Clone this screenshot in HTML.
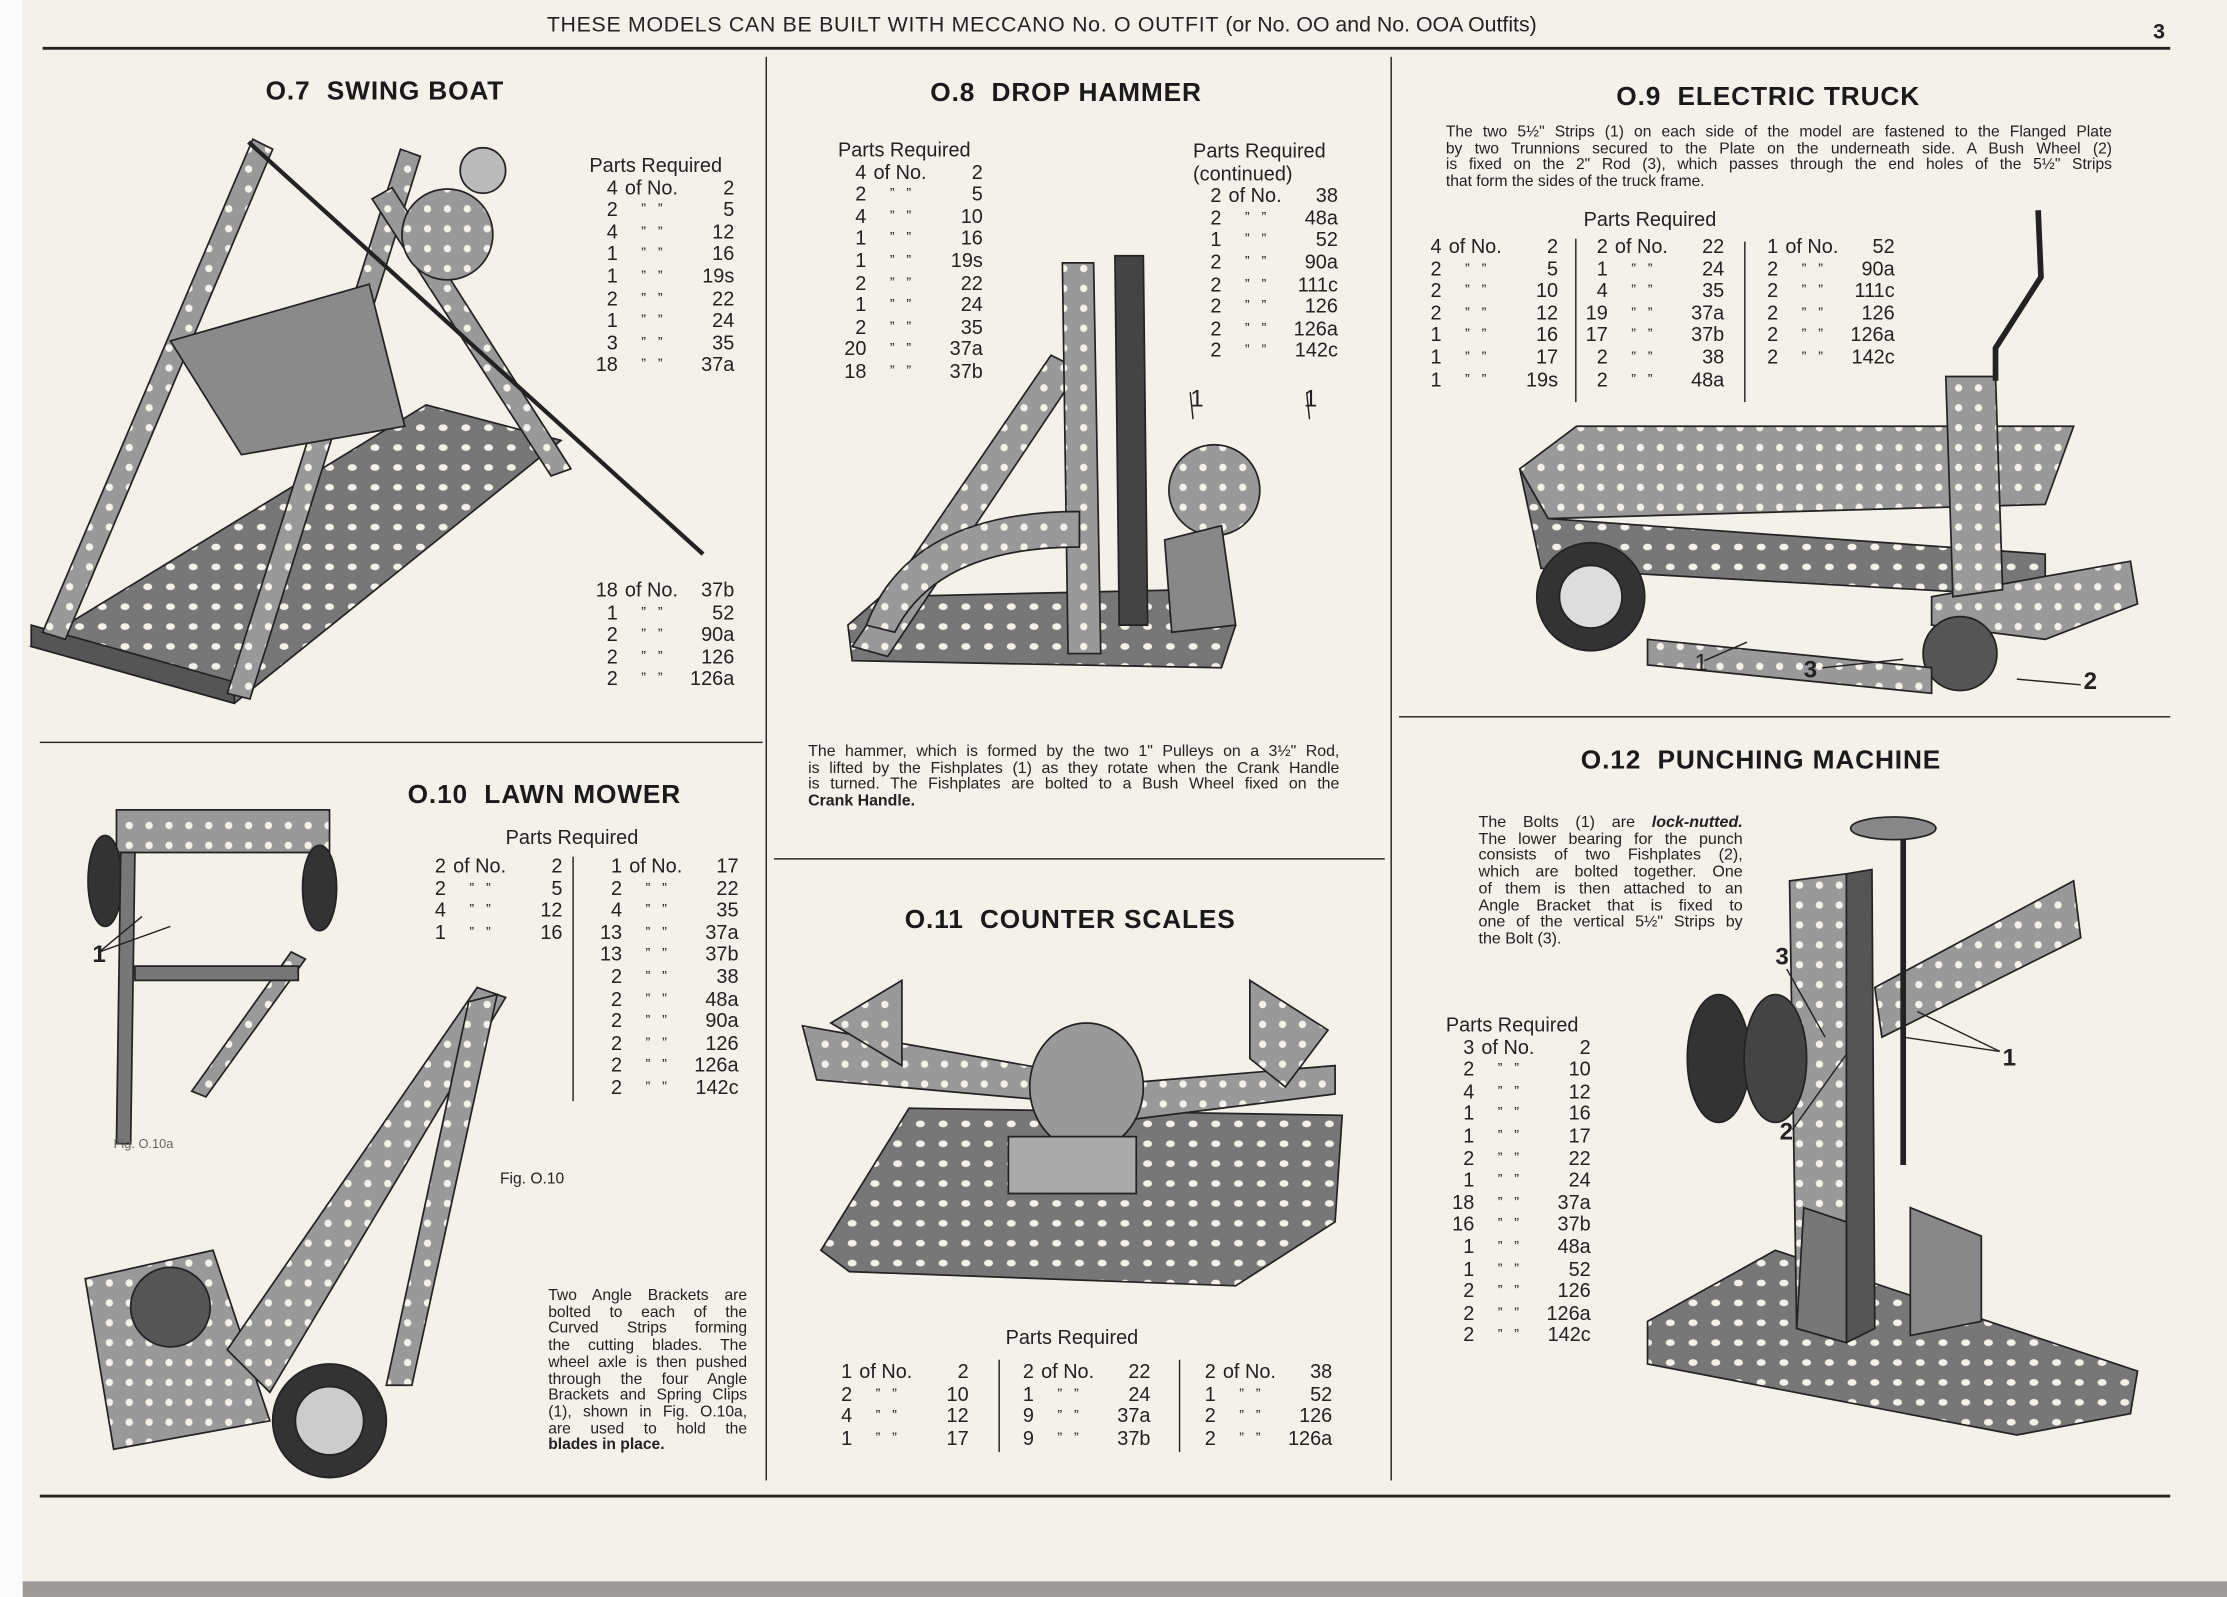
<!DOCTYPE html>
<html><head><meta charset="utf-8">
<style>
html,body{margin:0;padding:0;}
body{width:2227px;height:1597px;overflow:hidden;background:#f4f0ea;position:relative;}
#w{position:absolute;left:0;top:0;width:1568px;height:1124px;transform:scale(1.4203,1.4208);transform-origin:0 0;font-family:"Liberation Sans",sans-serif;color:#222;}
.a{position:absolute;white-space:nowrap;}
.t{font-weight:bold;font-size:18.5px;letter-spacing:0.6px;color:#1a1a1a;}
.ln{position:absolute;background:#222;}
.pl{position:absolute;font-size:14px;line-height:15.6px;}
.pl .r{display:flex;white-space:nowrap;}
.pl .q{display:inline-block;width:20px;text-align:right;}
.pl .m{display:inline-block;width:48px;text-align:center;font-size:10px;}
.pl .mo{display:inline-block;width:48px;text-align:left;padding-left:5px;box-sizing:border-box;}
.pl .n{display:inline-block;width:34px;text-align:right;}
.cap{position:absolute;font-size:11.2px;line-height:11.6px;}
.cap div{text-align:justify;text-align-last:justify;white-space:nowrap;}
.cap div.l{text-align-last:left;}
.lab{position:absolute;font-size:17px;font-weight:bold;}
</style></head><body>
<div id="w">
<div style="position:absolute;left:0;top:0;width:16px;height:1124px;background:#fbfbfb"></div>
<div style="position:absolute;left:16px;top:1113px;width:1552px;height:11px;background:#9d9b99"></div>

<div class="a" style="left:385px;top:9px;font-size:15px;letter-spacing:0.5px">THESE MODELS CAN BE BUILT WITH MECCANO No. O OUTFIT <span style="letter-spacing:0">(or No. OO and No. OOA Outfits)</span></div>
<div class="a" style="left:1516px;top:14px;font-size:15px;font-weight:bold">3</div>

<div class="ln" style="left:30px;top:33px;width:1498px;height:1.5px"></div>
<div class="ln" style="left:539px;top:40px;width:1.3px;height:1002px"></div>
<div class="ln" style="left:979px;top:40px;width:1.3px;height:1002px"></div>
<div class="ln" style="left:28px;top:522px;width:509px;height:1.3px"></div>
<div class="ln" style="left:545px;top:604px;width:430px;height:1.3px"></div>
<div class="ln" style="left:985px;top:504px;width:543px;height:1.3px"></div>
<div class="ln" style="left:28px;top:1052px;width:1500px;height:2px"></div>

<svg style="position:absolute;left:0;top:0" width="1568" height="1124">
<defs>
<pattern id="h" width="16" height="14" patternUnits="userSpaceOnUse"><rect width="16" height="14" fill="#777"/><ellipse cx="8" cy="7" rx="3.2" ry="2.4" fill="#f4f0ea"/></pattern>
<pattern id="h2" width="14" height="14" patternUnits="userSpaceOnUse"><rect width="14" height="14" fill="#999"/><circle cx="7" cy="7" r="2.6" fill="#f4f0ea"/></pattern>
</defs>
<g stroke="#222" stroke-width="1.2">
<!-- swing boat -->
<polygon points="22,455 165,495 395,310 300,285" fill="url(#h)"/>
<polygon points="22,455 165,495 165,480 22,440" fill="#555"/>
<polygon points="30,445 46,450 192,105 178,98" fill="url(#h2)"/>
<polygon points="160,488 176,492 296,110 282,105" fill="url(#h2)"/>
<polygon points="262,140 276,132 402,330 388,335" fill="url(#h2)"/>
<polygon points="120,240 260,200 285,300 170,320" fill="#8a8a8a"/>
<circle cx="315" cy="165" r="32" fill="url(#h2)"/>
<circle cx="340" cy="120" r="16" fill="#bbb"/>
<line x1="175" y1="100" x2="495" y2="390" stroke-width="3"/>
<!-- drop hammer -->
<polygon points="597,440 600,465 860,470 870,440 840,415 620,420" fill="url(#h)"/>
<polygon points="600,455 740,250 760,260 625,462" fill="url(#h2)"/>
<polygon points="748,185 770,185 775,460 752,460" fill="url(#h2)"/>
<polygon points="785,180 805,180 808,440 788,440" fill="#444"/>
<path d="M610,440 Q640,360 760,360 L760,385 Q660,385 630,445Z" fill="url(#h2)"/>
<circle cx="855" cy="345" r="32" fill="url(#h2)"/>
<polygon points="820,380 860,370 870,440 825,445" fill="#888"/>
<!-- electric truck -->
<polygon points="1070,330 1110,300 1460,300 1440,355 1090,365" fill="url(#h2)"/>
<polygon points="1070,330 1090,365 1440,390 1440,420 1085,400" fill="url(#h)"/>
<polygon points="1360,420 1500,395 1505,425 1440,450 1360,440" fill="url(#h2)"/>
<circle cx="1120" cy="420" r="38" fill="#333"/><circle cx="1120" cy="420" r="22" fill="#ddd"/>
<circle cx="1380" cy="460" r="26" fill="#555"/>
<polygon points="1370,265 1405,265 1410,415 1375,420" fill="url(#h2)"/>
<path d="M1435,148 L1437,195 L1405,245 L1405,268" fill="none" stroke-width="4"/>
<polygon points="1160,450 1360,470 1360,488 1160,468" fill="url(#h2)"/>
<!-- lawn mower small -->
<polygon points="82,570 232,570 232,600 82,600" fill="url(#h2)"/>
<ellipse cx="74" cy="620" rx="12" ry="32" fill="#333"/>
<ellipse cx="225" cy="625" rx="12" ry="30" fill="#333"/>
<polygon points="85,600 95,600 92,805 82,805" fill="#777"/>
<polygon points="205,670 215,675 145,772 135,768" fill="url(#h2)"/>
<polygon points="95,680 210,680 210,690 95,690" fill="#777"/>
<!-- lawn mower big -->
<polygon points="60,900 150,880 190,1000 80,1020" fill="url(#h2)"/>
<polygon points="160,950 336,695 356,702 190,980" fill="url(#h2)"/>
<polygon points="330,705 350,700 290,975 272,975" fill="url(#h2)"/>
<circle cx="232" cy="1000" r="40" fill="#333"/><circle cx="232" cy="1000" r="24" fill="#ccc"/>
<circle cx="120" cy="920" r="28" fill="#555"/>
<!-- counter scales -->
<polygon points="578,880 640,780 945,785 940,860 870,905 598,895" fill="url(#h)"/>
<polygon points="565,722 780,760 800,780 575,760" fill="url(#h2)"/>
<polygon points="760,765 940,750 940,770 780,790" fill="url(#h2)"/>
<polygon points="585,720 635,690 635,750" fill="url(#h2)"/>
<polygon points="880,690 935,725 905,765 880,745" fill="url(#h2)"/>
<ellipse cx="765" cy="765" rx="40" ry="45" fill="#999"/>
<polygon points="710,800 800,800 800,840 710,840" fill="#aaa"/>
<!-- punching machine -->
<polygon points="1160,930 1250,880 1505,965 1500,995 1420,1010 1160,960" fill="url(#h)"/>
<polygon points="1260,620 1300,615 1300,945 1265,935" fill="url(#h2)"/>
<polygon points="1300,615 1318,612 1320,935 1300,945" fill="#555"/>
<polygon points="1320,695 1460,620 1465,660 1325,730" fill="url(#h2)"/>
<ellipse cx="1210" cy="745" rx="22" ry="45" fill="#333"/>
<ellipse cx="1250" cy="745" rx="22" ry="45" fill="#444"/>
<line x1="1340" y1="590" x2="1340" y2="820" stroke-width="4"/>
<ellipse cx="1333" cy="583" rx="30" ry="8" fill="#888"/>
<polygon points="1345,850 1395,870 1395,930 1345,940" fill="#888"/>
<polygon points="1270,850 1300,860 1300,945 1265,935" fill="#777"/>
</g>
<g stroke="#222" stroke-width="1" fill="none">
<line x1="838" y1="276" x2="840" y2="295"/><line x1="920" y1="276" x2="922" y2="295"/>
<line x1="1200" y1="465" x2="1230" y2="452"/><line x1="1283" y1="470" x2="1340" y2="464"/><line x1="1420" y1="478" x2="1465" y2="482"/>
<line x1="70" y1="670" x2="100" y2="645"/><line x1="70" y1="670" x2="120" y2="652"/>
<line x1="1408" y1="740" x2="1350" y2="712"/><line x1="1408" y1="740" x2="1340" y2="730"/>
<line x1="1262" y1="795" x2="1300" y2="742"/><line x1="1258" y1="682" x2="1285" y2="730"/>
</g>
</svg>

<!-- labels -->
<div class="lab" style="left:838px;top:271px;font-weight:normal">1</div>
<div class="lab" style="left:918px;top:271px;font-weight:normal">1</div>
<div class="lab" style="left:1193px;top:457px;font-weight:normal">1</div>
<div class="lab" style="left:1270px;top:462px">3</div>
<div class="lab" style="left:1467px;top:470px">2</div>
<div class="lab" style="left:65px;top:662px">1</div>
<div class="lab" style="left:1410px;top:735px">1</div>
<div class="lab" style="left:1253px;top:787px">2</div>
<div class="lab" style="left:1250px;top:664px">3</div>

<!-- titles -->
<div class="a t" style="left:187px;top:53px">O.7&nbsp; SWING BOAT</div>
<div class="a t" style="left:655px;top:54px">O.8&nbsp; DROP HAMMER</div>
<div class="a t" style="left:1138px;top:57px">O.9&nbsp; ELECTRIC TRUCK</div>
<div class="a t" style="left:287px;top:548px">O.10&nbsp; LAWN MOWER</div>
<div class="a t" style="left:637px;top:636px">O.11&nbsp; COUNTER SCALES</div>
<div class="a t" style="left:1113px;top:524px">O.12&nbsp; PUNCHING MACHINE</div>

<!-- O.7 parts -->
<div class="pl" style="left:415px;top:109px">
<div>Parts Required</div>
<div class="r"><span class="q">4</span><span class="mo">of No.</span><span class="n">2</span></div>
<div class="r"><span class="q">2</span><span class="m">”&nbsp;&nbsp;&nbsp;”</span><span class="n">5</span></div>
<div class="r"><span class="q">4</span><span class="m">”&nbsp;&nbsp;&nbsp;”</span><span class="n">12</span></div>
<div class="r"><span class="q">1</span><span class="m">”&nbsp;&nbsp;&nbsp;”</span><span class="n">16</span></div>
<div class="r"><span class="q">1</span><span class="m">”&nbsp;&nbsp;&nbsp;”</span><span class="n">19s</span></div>
<div class="r"><span class="q">2</span><span class="m">”&nbsp;&nbsp;&nbsp;”</span><span class="n">22</span></div>
<div class="r"><span class="q">1</span><span class="m">”&nbsp;&nbsp;&nbsp;”</span><span class="n">24</span></div>
<div class="r"><span class="q">3</span><span class="m">”&nbsp;&nbsp;&nbsp;”</span><span class="n">35</span></div>
<div class="r"><span class="q">18</span><span class="m">”&nbsp;&nbsp;&nbsp;”</span><span class="n">37a</span></div>
</div>
<div class="pl" style="left:415px;top:408px">
<div class="r"><span class="q">18</span><span class="mo">of No.</span><span class="n">37b</span></div>
<div class="r"><span class="q">1</span><span class="m">”&nbsp;&nbsp;&nbsp;”</span><span class="n">52</span></div>
<div class="r"><span class="q">2</span><span class="m">”&nbsp;&nbsp;&nbsp;”</span><span class="n">90a</span></div>
<div class="r"><span class="q">2</span><span class="m">”&nbsp;&nbsp;&nbsp;”</span><span class="n">126</span></div>
<div class="r"><span class="q">2</span><span class="m">”&nbsp;&nbsp;&nbsp;”</span><span class="n">126a</span></div>
</div>

<!-- O.8 parts -->
<div class="pl" style="left:590px;top:98px">
<div>Parts Required</div>
<div class="r"><span class="q">4</span><span class="mo">of No.</span><span class="n">2</span></div>
<div class="r"><span class="q">2</span><span class="m">”&nbsp;&nbsp;&nbsp;”</span><span class="n">5</span></div>
<div class="r"><span class="q">4</span><span class="m">”&nbsp;&nbsp;&nbsp;”</span><span class="n">10</span></div>
<div class="r"><span class="q">1</span><span class="m">”&nbsp;&nbsp;&nbsp;”</span><span class="n">16</span></div>
<div class="r"><span class="q">1</span><span class="m">”&nbsp;&nbsp;&nbsp;”</span><span class="n">19s</span></div>
<div class="r"><span class="q">2</span><span class="m">”&nbsp;&nbsp;&nbsp;”</span><span class="n">22</span></div>
<div class="r"><span class="q">1</span><span class="m">”&nbsp;&nbsp;&nbsp;”</span><span class="n">24</span></div>
<div class="r"><span class="q">2</span><span class="m">”&nbsp;&nbsp;&nbsp;”</span><span class="n">35</span></div>
<div class="r"><span class="q">20</span><span class="m">”&nbsp;&nbsp;&nbsp;”</span><span class="n">37a</span></div>
<div class="r"><span class="q">18</span><span class="m">”&nbsp;&nbsp;&nbsp;”</span><span class="n">37b</span></div>
</div>
<div class="pl" style="left:840px;top:99px">
<div>Parts Required</div>
<div>(continued)</div>
<div class="r"><span class="q">2</span><span class="mo">of No.</span><span class="n">38</span></div>
<div class="r"><span class="q">2</span><span class="m">”&nbsp;&nbsp;&nbsp;”</span><span class="n">48a</span></div>
<div class="r"><span class="q">1</span><span class="m">”&nbsp;&nbsp;&nbsp;”</span><span class="n">52</span></div>
<div class="r"><span class="q">2</span><span class="m">”&nbsp;&nbsp;&nbsp;”</span><span class="n">90a</span></div>
<div class="r"><span class="q">2</span><span class="m">”&nbsp;&nbsp;&nbsp;”</span><span class="n">111c</span></div>
<div class="r"><span class="q">2</span><span class="m">”&nbsp;&nbsp;&nbsp;”</span><span class="n">126</span></div>
<div class="r"><span class="q">2</span><span class="m">”&nbsp;&nbsp;&nbsp;”</span><span class="n">126a</span></div>
<div class="r"><span class="q">2</span><span class="m">”&nbsp;&nbsp;&nbsp;”</span><span class="n">142c</span></div>
</div>
<div class="cap" style="left:569px;top:524px;width:374px">
<div>The hammer, which is formed by the two 1" Pulleys on a 3½" Rod,</div>
<div>is lifted by the Fishplates (1) as they rotate when the Crank Handle</div>
<div>is turned. The Fishplates are bolted to a Bush Wheel fixed on the</div>
<div class="l"><b>Crank Handle.</b></div>
</div>

<!-- O.9 -->
<div class="cap" style="left:1018px;top:88px;width:469px;font-size:11px">
<div>The two 5½" Strips (1) on each side of the model are fastened to the Flanged Plate</div>
<div>by two Trunnions secured to the Plate on the underneath side. A Bush Wheel (2)</div>
<div>is fixed on the 2" Rod (3), which passes through the end holes of the 5½" Strips</div>
<div class="l">that form the sides of the truck frame.</div>
</div>
<div class="a" style="left:1115px;top:146px;font-size:14px">Parts Required</div>
<div class="ln" style="left:1109px;top:168px;width:1px;height:115px"></div>
<div class="ln" style="left:1228px;top:170px;width:1px;height:113px"></div>
<div class="pl" style="left:995px;top:166px">
<div class="r"><span class="q">4</span><span class="mo">of No.</span><span class="n">2</span></div>
<div class="r"><span class="q">2</span><span class="m">”&nbsp;&nbsp;&nbsp;”</span><span class="n">5</span></div>
<div class="r"><span class="q">2</span><span class="m">”&nbsp;&nbsp;&nbsp;”</span><span class="n">10</span></div>
<div class="r"><span class="q">2</span><span class="m">”&nbsp;&nbsp;&nbsp;”</span><span class="n">12</span></div>
<div class="r"><span class="q">1</span><span class="m">”&nbsp;&nbsp;&nbsp;”</span><span class="n">16</span></div>
<div class="r"><span class="q">1</span><span class="m">”&nbsp;&nbsp;&nbsp;”</span><span class="n">17</span></div>
<div class="r"><span class="q">1</span><span class="m">”&nbsp;&nbsp;&nbsp;”</span><span class="n">19s</span></div>
</div>
<div class="pl" style="left:1112px;top:166px">
<div class="r"><span class="q">2</span><span class="mo">of No.</span><span class="n">22</span></div>
<div class="r"><span class="q">1</span><span class="m">”&nbsp;&nbsp;&nbsp;”</span><span class="n">24</span></div>
<div class="r"><span class="q">4</span><span class="m">”&nbsp;&nbsp;&nbsp;”</span><span class="n">35</span></div>
<div class="r"><span class="q">19</span><span class="m">”&nbsp;&nbsp;&nbsp;”</span><span class="n">37a</span></div>
<div class="r"><span class="q">17</span><span class="m">”&nbsp;&nbsp;&nbsp;”</span><span class="n">37b</span></div>
<div class="r"><span class="q">2</span><span class="m">”&nbsp;&nbsp;&nbsp;”</span><span class="n">38</span></div>
<div class="r"><span class="q">2</span><span class="m">”&nbsp;&nbsp;&nbsp;”</span><span class="n">48a</span></div>
</div>
<div class="pl" style="left:1232px;top:166px">
<div class="r"><span class="q">1</span><span class="mo">of No.</span><span class="n">52</span></div>
<div class="r"><span class="q">2</span><span class="m">”&nbsp;&nbsp;&nbsp;”</span><span class="n">90a</span></div>
<div class="r"><span class="q">2</span><span class="m">”&nbsp;&nbsp;&nbsp;”</span><span class="n">111c</span></div>
<div class="r"><span class="q">2</span><span class="m">”&nbsp;&nbsp;&nbsp;”</span><span class="n">126</span></div>
<div class="r"><span class="q">2</span><span class="m">”&nbsp;&nbsp;&nbsp;”</span><span class="n">126a</span></div>
<div class="r"><span class="q">2</span><span class="m">”&nbsp;&nbsp;&nbsp;”</span><span class="n">142c</span></div>
</div>

<!-- O.10 -->
<div class="a" style="left:356px;top:581px;font-size:14px">Parts Required</div>
<div class="ln" style="left:403px;top:603px;width:1px;height:172px"></div>
<div class="pl" style="left:294px;top:602px">
<div class="r"><span class="q">2</span><span class="mo">of No.</span><span class="n">2</span></div>
<div class="r"><span class="q">2</span><span class="m">”&nbsp;&nbsp;&nbsp;”</span><span class="n">5</span></div>
<div class="r"><span class="q">4</span><span class="m">”&nbsp;&nbsp;&nbsp;”</span><span class="n">12</span></div>
<div class="r"><span class="q">1</span><span class="m">”&nbsp;&nbsp;&nbsp;”</span><span class="n">16</span></div>
</div>
<div class="pl" style="left:418px;top:602px">
<div class="r"><span class="q">1</span><span class="mo">of No.</span><span class="n">17</span></div>
<div class="r"><span class="q">2</span><span class="m">”&nbsp;&nbsp;&nbsp;”</span><span class="n">22</span></div>
<div class="r"><span class="q">4</span><span class="m">”&nbsp;&nbsp;&nbsp;”</span><span class="n">35</span></div>
<div class="r"><span class="q">13</span><span class="m">”&nbsp;&nbsp;&nbsp;”</span><span class="n">37a</span></div>
<div class="r"><span class="q">13</span><span class="m">”&nbsp;&nbsp;&nbsp;”</span><span class="n">37b</span></div>
<div class="r"><span class="q">2</span><span class="m">”&nbsp;&nbsp;&nbsp;”</span><span class="n">38</span></div>
<div class="r"><span class="q">2</span><span class="m">”&nbsp;&nbsp;&nbsp;”</span><span class="n">48a</span></div>
<div class="r"><span class="q">2</span><span class="m">”&nbsp;&nbsp;&nbsp;”</span><span class="n">90a</span></div>
<div class="r"><span class="q">2</span><span class="m">”&nbsp;&nbsp;&nbsp;”</span><span class="n">126</span></div>
<div class="r"><span class="q">2</span><span class="m">”&nbsp;&nbsp;&nbsp;”</span><span class="n">126a</span></div>
<div class="r"><span class="q">2</span><span class="m">”&nbsp;&nbsp;&nbsp;”</span><span class="n">142c</span></div>
</div>
<div class="a" style="left:80px;top:800px;font-size:9px;color:#666">Fig. O.10a</div>
<div class="a" style="left:352px;top:824px;font-size:11px">Fig. O.10</div>
<div class="cap" style="left:386px;top:907px;width:140px;font-size:11px;line-height:11.7px">
<div>Two Angle Brackets are</div>
<div>bolted to each of the</div>
<div>Curved Strips forming</div>
<div>the cutting blades. The</div>
<div>wheel axle is then pushed</div>
<div>through the four Angle</div>
<div>Brackets and Spring Clips</div>
<div>(1), shown in Fig. O.10a,</div>
<div>are used to hold the</div>
<div class="l"><b>blades in place.</b></div>
</div>

<!-- O.11 -->
<div class="a" style="left:708px;top:933px;font-size:14px">Parts Required</div>
<div class="ln" style="left:703px;top:957px;width:1px;height:65px"></div>
<div class="ln" style="left:830px;top:957px;width:1px;height:65px"></div>
<div class="pl" style="left:580px;top:958px">
<div class="r"><span class="q">1</span><span class="mo">of No.</span><span class="n">2</span></div>
<div class="r"><span class="q">2</span><span class="m">”&nbsp;&nbsp;&nbsp;”</span><span class="n">10</span></div>
<div class="r"><span class="q">4</span><span class="m">”&nbsp;&nbsp;&nbsp;”</span><span class="n">12</span></div>
<div class="r"><span class="q">1</span><span class="m">”&nbsp;&nbsp;&nbsp;”</span><span class="n">17</span></div>
</div>
<div class="pl" style="left:708px;top:958px">
<div class="r"><span class="q">2</span><span class="mo">of No.</span><span class="n">22</span></div>
<div class="r"><span class="q">1</span><span class="m">”&nbsp;&nbsp;&nbsp;”</span><span class="n">24</span></div>
<div class="r"><span class="q">9</span><span class="m">”&nbsp;&nbsp;&nbsp;”</span><span class="n">37a</span></div>
<div class="r"><span class="q">9</span><span class="m">”&nbsp;&nbsp;&nbsp;”</span><span class="n">37b</span></div>
</div>
<div class="pl" style="left:836px;top:958px">
<div class="r"><span class="q">2</span><span class="mo">of No.</span><span class="n">38</span></div>
<div class="r"><span class="q">1</span><span class="m">”&nbsp;&nbsp;&nbsp;”</span><span class="n">52</span></div>
<div class="r"><span class="q">2</span><span class="m">”&nbsp;&nbsp;&nbsp;”</span><span class="n">126</span></div>
<div class="r"><span class="q">2</span><span class="m">”&nbsp;&nbsp;&nbsp;”</span><span class="n">126a</span></div>
</div>

<!-- O.12 -->
<div class="cap" style="left:1041px;top:574px;width:186px;font-size:11.3px;line-height:11.7px">
<div>The Bolts (1) are <i><b>lock-nutted.</b></i></div>
<div>The lower bearing for the punch</div>
<div>consists of two Fishplates (2),</div>
<div>which are bolted together. One</div>
<div>of them is then attached to an</div>
<div>Angle Bracket that is fixed to</div>
<div>one of the vertical 5½" Strips by</div>
<div class="l">the Bolt (3).</div>
</div>
<div class="pl" style="left:1018px;top:714px">
<div>Parts Required</div>
<div class="r"><span class="q">3</span><span class="mo">of No.</span><span class="n">2</span></div>
<div class="r"><span class="q">2</span><span class="m">”&nbsp;&nbsp;&nbsp;”</span><span class="n">10</span></div>
<div class="r"><span class="q">4</span><span class="m">”&nbsp;&nbsp;&nbsp;”</span><span class="n">12</span></div>
<div class="r"><span class="q">1</span><span class="m">”&nbsp;&nbsp;&nbsp;”</span><span class="n">16</span></div>
<div class="r"><span class="q">1</span><span class="m">”&nbsp;&nbsp;&nbsp;”</span><span class="n">17</span></div>
<div class="r"><span class="q">2</span><span class="m">”&nbsp;&nbsp;&nbsp;”</span><span class="n">22</span></div>
<div class="r"><span class="q">1</span><span class="m">”&nbsp;&nbsp;&nbsp;”</span><span class="n">24</span></div>
<div class="r"><span class="q">18</span><span class="m">”&nbsp;&nbsp;&nbsp;”</span><span class="n">37a</span></div>
<div class="r"><span class="q">16</span><span class="m">”&nbsp;&nbsp;&nbsp;”</span><span class="n">37b</span></div>
<div class="r"><span class="q">1</span><span class="m">”&nbsp;&nbsp;&nbsp;”</span><span class="n">48a</span></div>
<div class="r"><span class="q">1</span><span class="m">”&nbsp;&nbsp;&nbsp;”</span><span class="n">52</span></div>
<div class="r"><span class="q">2</span><span class="m">”&nbsp;&nbsp;&nbsp;”</span><span class="n">126</span></div>
<div class="r"><span class="q">2</span><span class="m">”&nbsp;&nbsp;&nbsp;”</span><span class="n">126a</span></div>
<div class="r"><span class="q">2</span><span class="m">”&nbsp;&nbsp;&nbsp;”</span><span class="n">142c</span></div>
</div>
</div>
</body></html>
